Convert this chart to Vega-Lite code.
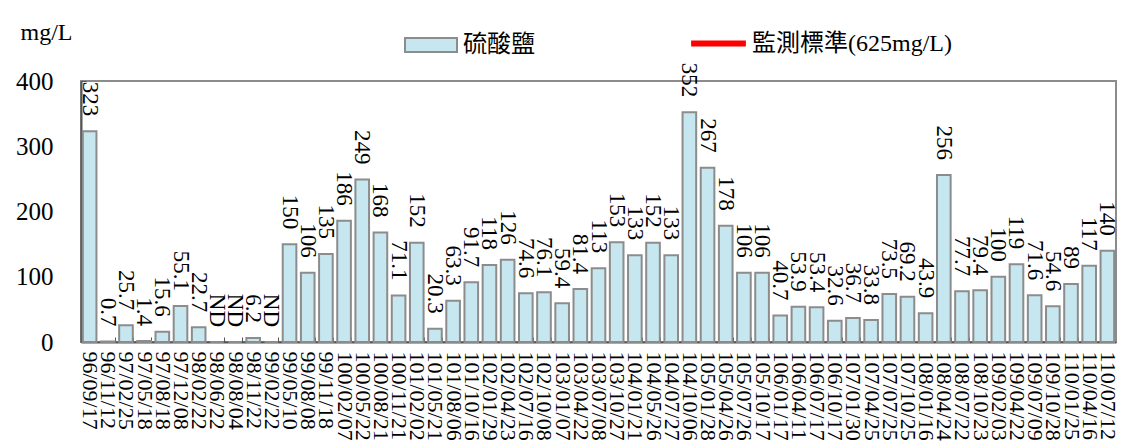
{
  "$schema": "https://vega.github.io/schema/vega-lite/v6.json",
  "width": 1035,
  "height": 261,
  "autosize": {"type": "none"},
  "padding": {"left": 81, "top": 81, "right": 15, "bottom": 106},
  "background": "white",
  "config": {
    "font": "Liberation Serif",
    "view": {"stroke": "#8c8c8c", "strokeWidth": 2},
    "axis": {"labelFont": "Liberation Serif", "labelColor": "#000000", "titleFont": "Liberation Serif", "grid": false},
    "legend": {"labelFont": "Liberation Serif, Noto Sans CJK TC"}
  },
  "layer": [
    {
      "data": {
        "name": "sulfate",
        "values": [
          {"date": "96/09/17", "value": 323, "label": "323"},
          {"date": "96/11/12", "value": 0.7, "label": "0.7"},
          {"date": "97/02/25", "value": 25.7, "label": "25.7"},
          {"date": "97/05/18", "value": 1.4, "label": "1.4"},
          {"date": "97/08/18", "value": 15.6, "label": "15.6"},
          {"date": "97/12/08", "value": 55.1, "label": "55.1"},
          {"date": "98/02/22", "value": 22.7, "label": "22.7"},
          {"date": "98/06/22", "value": 0, "label": "ND"},
          {"date": "98/08/04", "value": 0, "label": "ND"},
          {"date": "98/11/22", "value": 6.2, "label": "6.2"},
          {"date": "99/02/22", "value": 0, "label": "ND"},
          {"date": "99/05/10", "value": 150, "label": "150"},
          {"date": "99/08/08", "value": 106, "label": "106"},
          {"date": "99/11/18", "value": 135, "label": "135"},
          {"date": "100/02/07", "value": 186, "label": "186"},
          {"date": "100/05/22", "value": 249, "label": "249"},
          {"date": "100/08/21", "value": 168, "label": "168"},
          {"date": "100/11/21", "value": 71.1, "label": "71.1"},
          {"date": "101/02/02", "value": 152, "label": "152"},
          {"date": "101/05/21", "value": 20.3, "label": "20.3"},
          {"date": "101/08/06", "value": 63.3, "label": "63.3"},
          {"date": "101/10/16", "value": 91.7, "label": "91.7"},
          {"date": "102/01/29", "value": 118, "label": "118"},
          {"date": "102/04/23", "value": 126, "label": "126"},
          {"date": "102/07/16", "value": 74.6, "label": "74.6"},
          {"date": "102/10/08", "value": 76.1, "label": "76.1"},
          {"date": "103/01/07", "value": 59.4, "label": "59.4"},
          {"date": "103/04/22", "value": 81.4, "label": "81.4"},
          {"date": "103/07/08", "value": 113, "label": "113"},
          {"date": "103/10/27", "value": 153, "label": "153"},
          {"date": "104/01/21", "value": 133, "label": "133"},
          {"date": "104/05/26", "value": 152, "label": "152"},
          {"date": "104/07/27", "value": 133, "label": "133"},
          {"date": "104/10/06", "value": 352, "label": "352"},
          {"date": "105/01/28", "value": 267, "label": "267"},
          {"date": "105/04/26", "value": 178, "label": "178"},
          {"date": "105/07/26", "value": 106, "label": "106"},
          {"date": "105/10/17", "value": 106, "label": "106"},
          {"date": "106/01/17", "value": 40.7, "label": "40.7"},
          {"date": "106/04/11", "value": 53.9, "label": "53.9"},
          {"date": "106/07/17", "value": 53.4, "label": "53.4"},
          {"date": "106/10/17", "value": 32.6, "label": "32.6"},
          {"date": "107/01/30", "value": 36.7, "label": "36.7"},
          {"date": "107/04/25", "value": 33.8, "label": "33.8"},
          {"date": "107/07/25", "value": 73.5, "label": "73.5"},
          {"date": "107/10/25", "value": 69.2, "label": "69.2"},
          {"date": "108/01/16", "value": 43.9, "label": "43.9"},
          {"date": "108/04/24", "value": 256, "label": "256"},
          {"date": "108/07/22", "value": 77.7, "label": "77.7"},
          {"date": "108/10/23", "value": 79.4, "label": "79.4"},
          {"date": "109/02/03", "value": 100, "label": "100"},
          {"date": "109/04/22", "value": 119, "label": "119"},
          {"date": "109/07/09", "value": 71.6, "label": "71.6"},
          {"date": "109/10/28", "value": 54.6, "label": "54.6"},
          {"date": "110/01/25", "value": 89, "label": "89"},
          {"date": "110/04/16", "value": 117, "label": "117"},
          {"date": "110/07/12", "value": 140, "label": "140"}
        ]
      },
      "encoding": {
        "x": {
          "field": "date",
          "type": "nominal",
          "sort": null,
          "scale": {"paddingInner": 0.25, "paddingOuter": 0.1},
          "axis": {
            "title": null,
            "labelAngle": 90,
            "labelAlign": "left",
            "labelBaseline": "middle",
            "labelFont": "Liberation Serif",
            "labelFontSize": 22,
            "labelPadding": 14,
            "tickBand": "extent",
            "tickSize": -5,
            "tickColor": "#555555",
            "domainColor": "#555555",
            "domainWidth": 2,
            "labelOverlap": false
          }
        },
        "y": {
          "field": "value",
          "type": "quantitative",
          "scale": {"domain": [0, 400], "nice": false},
          "axis": {
            "values": [0, 100, 200, 300, 400],
            "labelFont": "Liberation Serif",
            "labelFontSize": 25,
            "labelPadding": 33,
            "tickSize": -5,
            "tickColor": "#555555",
            "domainColor": "#555555",
            "domainWidth": 2,
            "title": "mg/L",
            "titleFont": "Liberation Serif",
            "titleAngle": 0,
            "titleAlign": "left",
            "titleBaseline": "alphabetic",
            "titleX": -61,
            "titleY": -42,
            "titleFontSize": 24,
            "titleFontWeight": "normal",
            "titleColor": "#000000"
          }
        }
      },
      "layer": [
        {
          "mark": {"type": "bar", "stroke": "#8c8c8c", "strokeWidth": 2},
          "encoding": {
            "color": {
              "datum": "硫酸鹽",
              "scale": {"range": ["#c6e7f0"]},
              "legend": {
                "title": null,
                "orient": "none",
                "legendX": 323,
                "legendY": -63,
                "padding": 0,
                "symbolType": "M-1,-0.27H1V0.27H-1Z",
                "symbolSize": 2704,
                "symbolStrokeColor": "#8c8c8c",
                "symbolStrokeWidth": 2,
                "symbolOpacity": 1,
                "labelFontSize": 24,
                "labelFont": "Liberation Serif, Noto Sans CJK TC",
                "labelColor": "#000000",
                "labelOffset": 5,
                "labelLimit": 400
              }
            }
          }
        },
        {
          "mark": {"type": "text", "angle": 90, "align": "right", "baseline": "middle", "dx": -15, "fontSize": 23, "font": "Liberation Serif", "color": "#000000"},
          "encoding": {"text": {"field": "label"}}
        }
      ]
    },
    {
      "data": {"values": [{"standard": 625}]},
      "mark": {"type": "rule", "clip": true, "strokeWidth": 3},
      "encoding": {
        "y": {"field": "standard", "type": "quantitative"},
        "stroke": {
          "datum": "監測標準(625mg/L)",
          "scale": {"range": ["#ff0000"]},
          "legend": {
            "title": null,
            "orient": "none",
            "legendX": 607,
            "legendY": -68,
            "padding": 0,
            "symbolType": "stroke",
            "symbolSize": 3000,
            "symbolStrokeWidth": 6,
            "labelFontSize": 24,
            "labelFont": "Liberation Serif, Noto Sans CJK TC",
            "labelColor": "#000000",
            "labelOffset": 3,
            "labelLimit": 400
          }
        }
      }
    }
  ]
}
